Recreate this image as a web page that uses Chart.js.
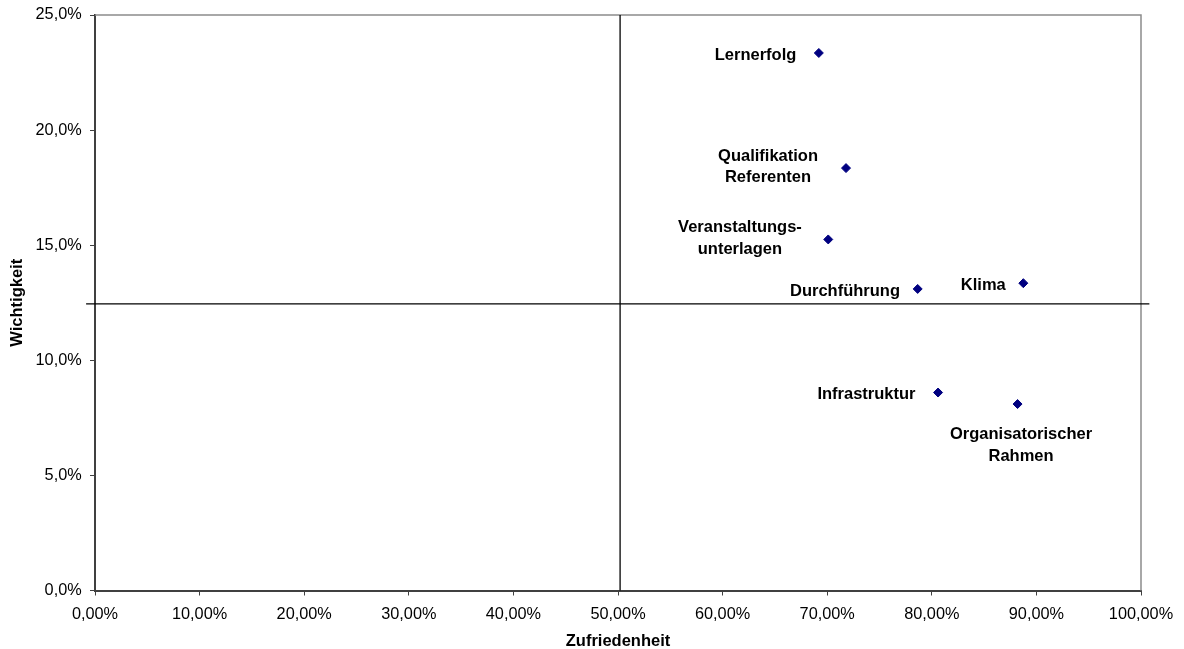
<!DOCTYPE html>
<html>
<head>
<meta charset="utf-8">
<title>Wichtigkeit / Zufriedenheit</title>
<script src="https://cdn.jsdelivr.net/npm/chart.js@4.4.1/dist/chart.umd.min.js"></script>
<style>
  html, body { margin: 0; padding: 0; background: #fff; }
  #chart { display: block; }
</style>
</head>
<body>
<canvas id="chart" width="1184" height="649"></canvas>
<script>
// Portfolio: Zufriedenheit (x) gegen Wichtigkeit (y), Werte in Prozent
const categories = [
  ['Lernerfolg'],
  ['Qualifikation', 'Referenten'],
  ['Veranstaltungs-', 'unterlagen'],
  ['Durchführung'],
  ['Klima'],
  ['Infrastruktur'],
  ['Organisatorischer', 'Rahmen']
];
const zufriedenheit = [69.2, 71.8, 70.1, 78.65, 88.75, 80.6, 88.2];
const wichtigkeit = [23.35, 18.35, 15.25, 13.1, 13.35, 8.6, 8.1];

const xTickValues = [0, 10, 20, 30, 40, 50, 60, 70, 80, 90, 100];
const yTickValues = [0, 5, 10, 15, 20, 25];

// Achsenkreuz
const crossX = 50.2;
const crossY = 12.45;
const crossXRange = [-0.85, 100.8];

// label placement relative to the marker: [textAlign, dx, dy of first baseline]
const labelPlacement = [
  ['right', -22.5, 6.7],
  ['center', -78, -7.3],
  ['center', -88.3, -7.6],
  ['right', -17.7, 7],
  ['right', -17.6, 6.7],
  ['right', -22.6, 6.3],
  ['center', 3.5, 35]
];

const FONT = '"Liberation Sans", Arial, sans-serif';
const AXIS_COLOR = '#404040';

function pct(decimals) {
  return value => value.toFixed(decimals).replace('.', ',') + '%';
}

const plotFrame = {
  id: 'plotFrame',
  beforeDatasetsDraw(chart) {
    const { ctx, chartArea: a } = chart;
    ctx.save();
    ctx.strokeStyle = '#8c8c8c';
    ctx.lineWidth = 1.5;
    ctx.beginPath();
    ctx.moveTo(a.left, a.top);
    ctx.lineTo(a.right, a.top);
    ctx.lineTo(a.right, a.bottom);
    ctx.stroke();
    ctx.restore();
  }
};

const pointLabels = {
  id: 'pointLabels',
  afterDatasetsDraw(chart) {
    const meta = chart.getDatasetMeta(0);
    const ctx = chart.ctx;
    ctx.save();
    ctx.font = 'bold 16.5px ' + FONT;
    ctx.fillStyle = '#000';
    ctx.textBaseline = 'alphabetic';
    meta.data.forEach((pt, i) => {
      const [align, dx, dy] = labelPlacement[i];
      ctx.textAlign = align;
      categories[i].forEach((line, j) => {
        ctx.fillText(line, pt.x + dx, pt.y + dy + j * 21.7);
      });
    });
    ctx.restore();
  }
};

new Chart(document.getElementById('chart'), {
  type: 'scatter',
  data: {
    datasets: [{
      label: 'Bewertung',
      data: zufriedenheit.map((x, i) => ({ x, y: wichtigkeit[i] })),
      pointStyle: 'rectRot',
      pointRadius: 4.5,
      backgroundColor: '#000080',
      borderColor: '#000080',
      borderWidth: 1,
      order: 0
    }, {
      label: 'Mittel Zufriedenheit',
      data: [{ x: crossX, y: yTickValues[0] }, { x: crossX, y: yTickValues[yTickValues.length - 1] }],
      showLine: true,
      borderColor: '#000',
      borderWidth: 1.3,
      pointRadius: 0,
      clip: false,
      order: 1
    }, {
      label: 'Mittel Wichtigkeit',
      data: [{ x: crossXRange[0], y: crossY }, { x: crossXRange[1], y: crossY }],
      showLine: true,
      borderColor: '#000',
      borderWidth: 1.3,
      pointRadius: 0,
      clip: false,
      order: 1
    }]
  },
  options: {
    responsive: false,
    animation: false,
    devicePixelRatio: 1,
    layout: { padding: { top: 15, right: 43, left: 0, bottom: 0 } },
    plugins: {
      legend: { display: false },
      tooltip: { enabled: false }
    },
    scales: {
      x: {
        type: 'linear',
        min: 0,
        max: 100,
        afterBuildTicks: scale => { scale.ticks = xTickValues.map(value => ({ value })); },
        afterFit: scale => { scale.height = 58.5; },
        grid: { drawOnChartArea: false, drawTicks: true, tickLength: 5, color: AXIS_COLOR },
        border: { display: true, color: AXIS_COLOR, width: 2 },
        ticks: {
          padding: 9,
          color: '#000',
          font: { family: FONT, size: 16.3 },
          maxRotation: 0,
          autoSkip: false,
          callback: pct(2)
        },
        title: {
          display: true,
          text: 'Zufriedenheit',
          color: '#000',
          font: { family: FONT, size: 16.5, weight: 'bold', lineHeight: 0.9 },
          padding: 0
        }
      },
      y: {
        type: 'linear',
        min: 0,
        max: 25,
        afterBuildTicks: scale => { scale.ticks = yTickValues.map(value => ({ value })); },
        afterFit: scale => {
          scale.width = 95;
          // keep the plot top fixed by the layout padding, not by the label overhang
          scale.paddingTop = 0;
          scale.paddingBottom = 0;
        },
        grid: { drawOnChartArea: false, drawTicks: true, tickLength: 5, color: AXIS_COLOR },
        border: { display: true, color: AXIS_COLOR, width: 2 },
        ticks: {
          padding: 8.3,
          color: '#000',
          font: { family: FONT, size: 16.3 },
          autoSkip: false,
          callback: pct(1)
        },
        title: {
          display: true,
          text: 'Wichtigkeit',
          color: '#000',
          font: { family: FONT, size: 16.5, weight: 'bold', lineHeight: 1.2 },
          padding: { top: 8, bottom: 0 }
        }
      }
    }
  },
  plugins: [plotFrame, pointLabels]
});
</script>
</body>
</html>
